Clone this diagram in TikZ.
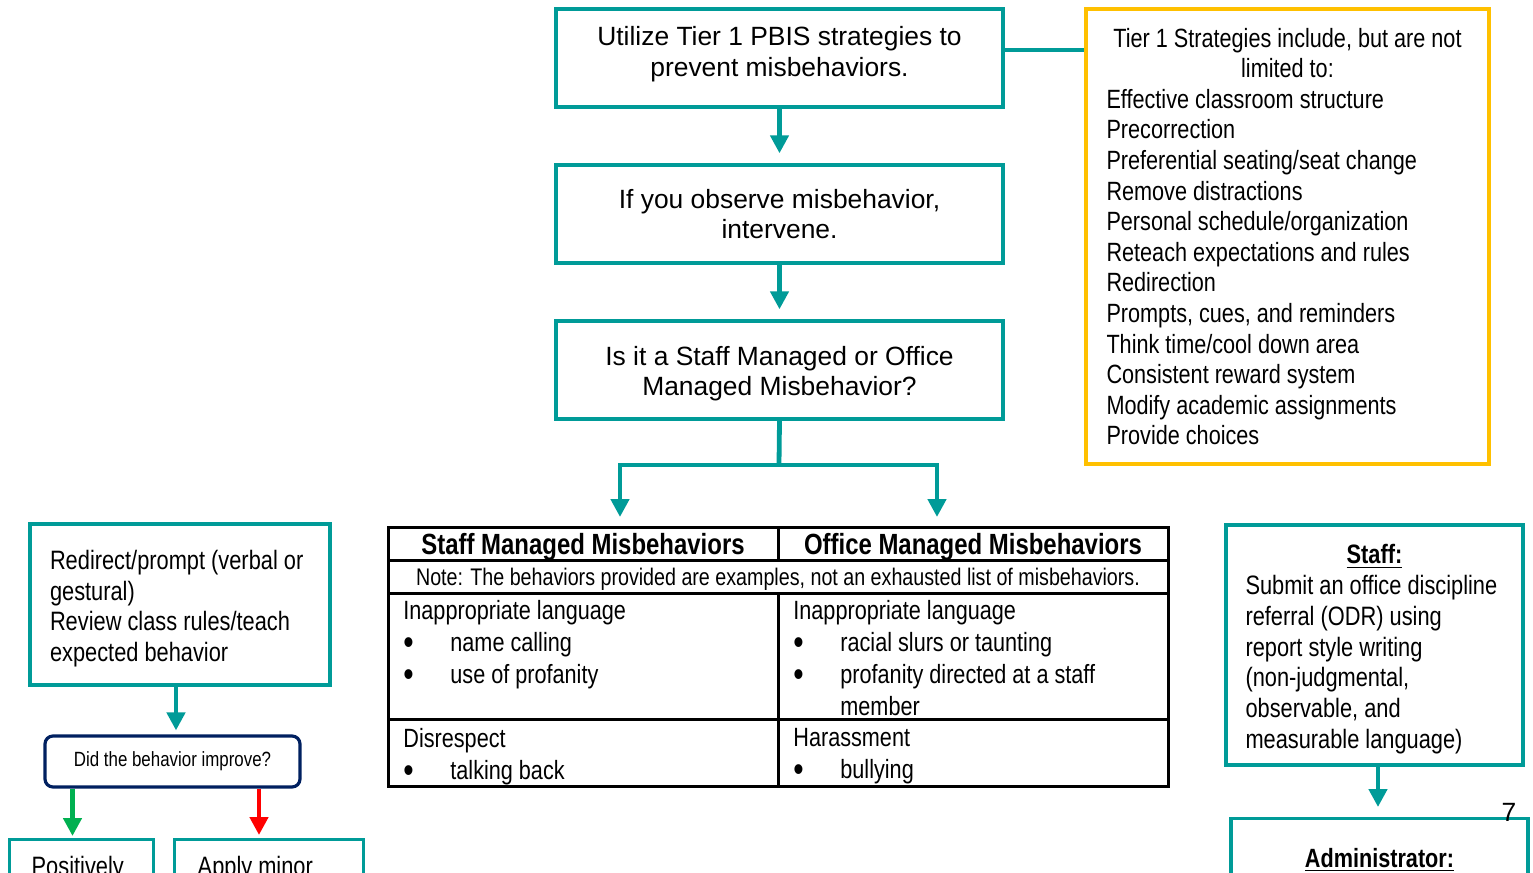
\documentclass[tikz,border=0pt]{standalone}
\usepackage{fontspec}
\setmainfont{Liberation Sans}
\newfontfamily\narrowfont[FakeStretch=0.82]{Liberation Sans}
\usetikzlibrary{positioning, arrows.meta}
\definecolor{pbisteal}{RGB}{0, 155, 152}
\definecolor{pbisgold}{RGB}{255, 192, 0}
\definecolor{pbisnavy}{RGB}{0, 32, 96}
\definecolor{pbisgreen}{RGB}{0, 176, 80}
\definecolor{pbisred}{RGB}{255, 0, 0}
\newcommand{\mainsize}{\fontsize{13.2}{15.4}\selectfont}
\newcommand{\sidesize}{\fontsize{13.3}{15.35}\selectfont}
\newcommand{\tb}{\makebox[23.5pt][l]{\smash{\raisebox{-1.6pt}{\fontsize{18}{18}\selectfont\textbullet}}}}

\begin{document}
\begin{tikzpicture}[x=0.5pt, y=-0.5pt,
    node distance=27.3pt,
    flow/.style={rectangle, draw=pbisteal, line width=1.7pt, minimum width=223.5pt,
                 minimum height=49pt, align=center, inner sep=0pt, font=\mainsize},
    side/.style={rectangle, draw=pbisteal, line width=1.7pt, align=flush left,
                 inner xsep=10.5pt, inner ysep=0pt, font=\narrowfont\sidesize},
    tealline/.style={line width=1.7pt, color=pbisteal},
    arrow/.style={-{Triangle[length=9pt, width=9pt]}, line width=2.4pt,
                  color=pbisteal, shorten >=5pt},
    grid/.style={line width=1.5pt, color=black},
    hd/.style={font=\narrowfont\bfseries\fontsize{14.6}{16}\selectfont, inner sep=0pt},
    cell/.style={anchor=north west, align=left, inner sep=0pt,
                 font=\narrowfont\fontsize{13.2}{16}\selectfont}
  ]
    \useasboundingbox (0,0) rectangle (1533,873);
    \clip (0,0) rectangle (1533,873);

    % centre column
    \node[flow] (tier1) at (779.5,58) {Utilize Tier 1 PBIS strategies to\\prevent misbehaviors.\rule[-6.2pt]{0pt}{6.2pt}};
    \node[flow, below=of tier1]   (observe) {If you observe misbehavior,\\intervene.};
    \node[flow, below=of observe] (decide)  {\rule{0pt}{13.2pt}Is it a Staff Managed or Office\\Managed Misbehavior?};

    \node[rectangle, draw=pbisgold, line width=1.7pt, minimum width=201.5pt,
          minimum height=227.5pt, text width=181pt, inner xsep=10.25pt, align=flush left,
          font=\narrowfont\fontsize{13.2}{15.3}\selectfont] (strat) at (1287.5,236.5)
      {{\centering Tier 1 Strategies include, but are not\\limited to:\par}%
       Effective classroom structure\\Precorrection\\Preferential seating/seat change\\
       Remove distractions\\Personal schedule/organization\\Reteach expectations and rules\\
       Redirection\\Prompts, cues, and reminders\\Think time/cool down area\\
       Consistent reward system\\Modify academic assignments\\Provide choices};

    \draw[tealline] ([yshift=4pt]tier1.east) -- ([yshift=4pt]tier1.east -| strat.west);
    \draw[arrow] (tier1)   -- (observe);
    \draw[arrow] (observe) -- (decide);

    \coordinate (split)    at (779,465);
    \coordinate (staffin)  at (620,527);
    \coordinate (officein) at (937,527);
    \draw[tealline, line width=2.4pt] (decide.south) -- (split);
    \draw[arrow] (split) -| (staffin);
    \draw[arrow] (split) -| (officein);

    % table
    \draw[grid] (388,527) rectangle (1168,786);
    \draw[grid] (388,560) -- (1168,560);
    \draw[grid] (388,593) -- (1168,593);
    \draw[grid] (388,719) -- (1168,719);
    \draw[grid] (778,527) -- (778,560);
    \draw[grid] (778,593) -- (778,786);
    \node[hd] (staffhd)  at (583,547) {Staff Managed Misbehaviors};
    \node[hd] (officehd) at (973,547) {Office Managed Misbehaviors};
    \node[inner sep=0pt, font=\narrowfont\fontsize{12}{13}\selectfont] (note) at (778,579)
      {Note: The behaviors provided are examples, not an exhausted list of misbehaviors.};
    \node[cell] (staffa)  at (403,600) {Inappropriate language\\\tb name calling\\\tb use of profanity};
    \node[cell] (officea) at (793,600) {Inappropriate language\\\tb racial slurs or taunting\\
                                        \tb profanity directed at a staff\\\makebox[23.5pt]{}member};
    \node[cell] (staffb)  at (403,728) {Disrespect\\\tb talking back};
    \node[cell] (officeb) at (793,728) {Harassment\\\tb bullying};

    % left branch
    \node[side, text width=130pt, inner xsep=10pt, minimum height=80.5pt] (redirect) at (180,604.5)
      {\rule{0pt}{13.7pt}Redirect/prompt (verbal or\\gestural)\\Review class rules/teach\\expected behavior};
    \node[rectangle, rounded corners=4pt, draw=pbisnavy, line width=1.6pt,
          minimum width=127.5pt, minimum height=25.5pt,
          font=\narrowfont\fontsize{10.3}{12}\selectfont] (improve) at (172.5,761.5)
      {Did the behavior improve?};
    \node[side, anchor=north west, text width=50pt, inner xsep=11pt, text depth=80pt, inner ysep=8.5pt]
      (pos) at (8,838) {Positively};
    \node[side, anchor=north west, text width=71.5pt, inner xsep=11.5pt, text depth=80pt, inner ysep=8.5pt]
      (minor) at (173,838) {Apply minor};

    \draw[arrow, shorten >=2pt] ([xshift=-2pt]redirect.south) -- ([xshift=-2pt]redirect.south |- improve.north);
    \draw[arrow, color=pbisgreen, shorten >=1pt] ([xshift=-50pt]improve.south) -- ([xshift=-50pt]improve.south |- pos.north);
    \draw[arrow, color=pbisred, shorten >=1.5pt] ([xshift=43.25pt]improve.south) -- ([xshift=43.25pt]improve.south |- minor.north);

    % right branch
    \node[side, text width=129pt, inner xsep=9.75pt, minimum height=120pt] (staff) at (1374.5,645)
      {{\centering\rule{0pt}{13.8pt}\bfseries\underline{Staff:}\par}%
       Submit an office discipline\\referral (ODR) using\\report style writing\\
       (non-judgmental,\\observable, and\\measurable language)};
    \node[side, anchor=north, minimum width=148.5pt, text depth=70pt, inner ysep=15pt,
          font=\narrowfont\bfseries\mainsize] (admin) at (1379.5,817) {\underline{Administrator:}};
    \draw[arrow] ([xshift=1.75pt]staff.south) -- ([xshift=1.75pt]staff.south |- admin.north);

    \node[font=\mainsize, inner sep=0pt] (pagenum) at (1509,812) {7};
\end{tikzpicture}
\end{document}
